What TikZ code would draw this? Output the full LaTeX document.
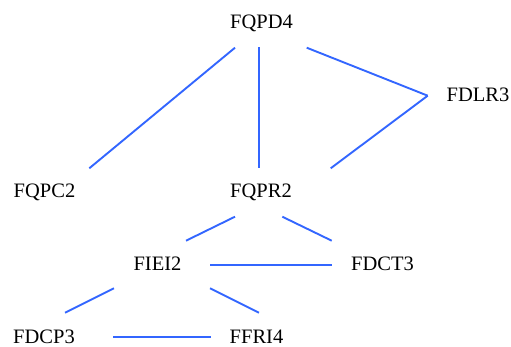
\documentclass[tikz,border=0pt]{standalone}
\usepackage{fontspec}
\setmainfont{Liberation Serif}
\definecolor{edgeblue}{RGB}{51,102,255}
\tikzset{
  lbl/.style={inner sep=0pt, text height=14pt, text depth=0pt, anchor=center, font=\fontsize{20.5pt}{24pt}\selectfont},
  edge/.style={draw=edgeblue, line width=1.9pt}
}
\begin{document}
\begin{tikzpicture}[x=1pt,y=-1pt]
\useasboundingbox (0,0) rectangle (511,347);
\node[lbl] (A) at (261.5,21.5) {FQPD4};
\node[lbl] (B) at (478,95) {FDLR3};
\node[lbl] (C) at (44.5,191) {FQPC2};
\node[lbl] (D) at (261,191) {FQPR2};
\node[lbl] (E) at (157.5,264) {FIEI2};
\node[lbl] (F) at (382.5,264) {FDCT3};
\node[lbl] (G) at (44,336) {FDCP3};
\node[lbl] (H) at (256.5,336) {FFRI4};
\draw[edge] ([shift={(-26.5,26.2)}]A.center) -- ([shift={(44.8,-22.7)}]C.center);
\draw[edge] ([shift={(-2.8,26)}]A.center) -- ([shift={(-2.3,-22.7)}]D.center);
\draw[edge] ([shift={(45.2,26.2)}]A.center) -- ([shift={(-50.3,0.7)}]B.center);
\draw[edge] ([shift={(-50.3,0.7)}]B.center) -- ([shift={(69.7,-22.7)}]D.center);
\draw[edge] ([shift={(-26,25.7)}]D.center) -- ([shift={(28.5,-23.3)}]E.center);
\draw[edge] ([shift={(21.3,25.7)}]D.center) -- ([shift={(-50.8,-23.3)}]F.center);
\draw[edge] ([shift={(52.5,1)}]E.center) -- ([shift={(-50.8,1)}]F.center);
\draw[edge] ([shift={(-43.5,24.3)}]E.center) -- ([shift={(21,-23.3)}]G.center);
\draw[edge] ([shift={(52.5,24.3)}]E.center) -- ([shift={(2.5,-23.3)}]H.center);
\draw[edge] ([shift={(69.3,1.3)}]G.center) -- ([shift={(-45.8,1.3)}]H.center);
\end{tikzpicture}
\end{document}
